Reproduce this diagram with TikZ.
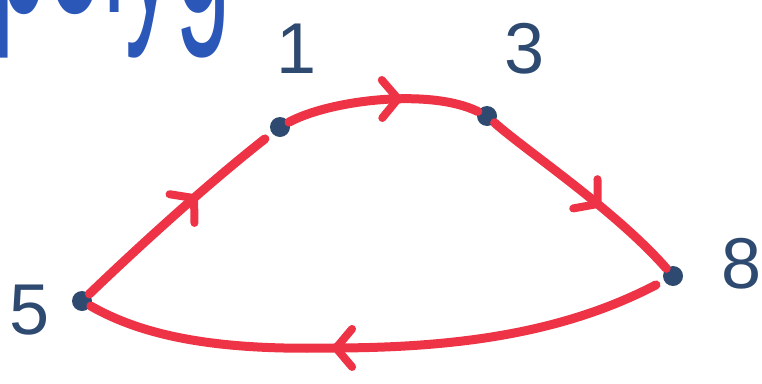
\documentclass[tikz,border=0pt]{standalone}
\usepackage{fontspec}
\setmainfont{Liberation Sans}
\usetikzlibrary{arrows.meta,decorations.markings}
\definecolor{penred}{HTML}{EE3347}
\definecolor{navy}{HTML}{2F4A70}
\definecolor{inkblue}{HTML}{2B57B8}
\begin{document}
\begin{tikzpicture}[x=1pt,y=-1pt,
  dotnode/.style={circle,fill=navy,minimum size=20pt,inner sep=0pt},
  lbl/.style={text=navy,font=\fontsize{72}{72}\selectfont,inner sep=0pt},
  edge/.style={draw=penred,line width=9pt,line cap=round},
  midarrow/.style={postaction={decorate},decoration={markings,
    mark=at position #1 with {\arrow[penred]{Straight Barb[length=16pt,width=38pt,line width=8pt,line cap=round,line join=round]}}}}]
\useasboundingbox (0,0) rectangle (762,383);
\clip (0,0) rectangle (762,383);
% partially visible title
\node[text=inkblue,font=\fontsize{100}{100}\selectfont,anchor=base west,inner sep=0pt,yscale=2.2] (title) at (-8,12) {polyg};
% vertices
\node[dotnode] (n1) at (280,127) {};
\node[dotnode] (n3) at (487,116) {};
\node[dotnode] (n8) at (673,276) {};
\node[dotnode] (n5) at (82,301) {};
% labels
\node[lbl] (l1) at (297,49) {1};
\node[lbl] (l3) at (525,49) {3};
\node[lbl] (l8) at (742,264) {8};
\node[lbl] (l5) at (30,310) {5};
% edges
\draw[edge,midarrow=0.6,shorten >=9pt] (n5) .. controls (130,255) and (200,190) .. (n1);
\draw[edge,midarrow=0.6] (n1) .. controls (330,100) and (430,88) .. (n3);
\draw[edge,midarrow=0.6] (n3) .. controls (525,150) and (615,210) .. (n8);
\draw[edge,midarrow=0.58,shorten <=9pt] (n8) .. controls (560,335) and (450,348) .. (330,348)
   .. controls (230,350) and (150,340) .. (n5);
\end{tikzpicture}
\end{document}
